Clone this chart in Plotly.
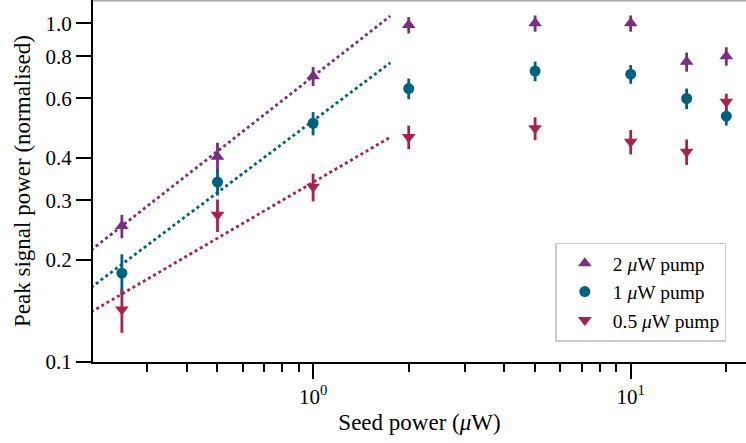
import plotly.graph_objects as go

# ---------------- data ----------------
seed_power = [0.25, 0.5, 1, 2, 5, 10, 15, 20]

pump2_y = [0.252, 0.404, 0.698, 0.989, 1.0, 1.0, 0.770, 0.800]
pump2_err = [0.020, 0.040, 0.045, 0.055, 0.055, 0.055, 0.050, 0.050]

pump1_y = [0.183, 0.340, 0.507, 0.642, 0.723, 0.708, 0.600, 0.532]
pump1_err = [0.025, 0.030, 0.040, 0.045, 0.048, 0.045, 0.042, 0.033]

pump05_y = [0.143, 0.272, 0.329, 0.462, 0.490, 0.447, 0.418, 0.587]
pump05_err = [0.021, 0.030, 0.031, 0.037, 0.038, 0.037, 0.036, 0.033]

# power-law fit lines (end points, straight on log-log axes)
fit_x = [0.2, 1.75]
fit2_y = [0.214, 1.051]
fit1_y = [0.166, 0.765]
fit05_y = [0.1405, 0.461]

labels = ["2 <i>μ</i>W pump", "1 <i>μ</i>W pump", "0.5 <i>μ</i>W pump"]

y_ticks = [0.1, 0.2, 0.3, 0.4, 0.6, 0.8, 1.0]
y_ticktext = ["0.1", "0.2", "0.3", "0.4", "0.6", "0.8", "1.0"]
x_ticks = [1, 10]
x_ticktext = ["10<sup>0</sup>", "10<sup>1</sup>"]
x_minor = [0.2, 0.3, 0.4, 0.5, 0.6, 0.7, 0.8, 0.9, 2, 3, 4, 5, 6, 7, 8, 9, 20]

# ---------------- style ----------------
PURPLE = "#7b2d80"
BLUE = "#00617f"
RED = "#a8224a"
FONT = "Liberation Serif"

fig = go.Figure()

for fy, col in [(fit2_y, PURPLE), (fit1_y, BLUE), (fit05_y, RED)]:
    fig.add_trace(go.Scatter(
        x=fit_x, y=fy, mode="lines", showlegend=False, hoverinfo="skip",
        line=dict(color=col, width=2.8, dash="3px,3px"),
    ))

series = [
    (pump2_y, pump2_err, PURPLE, "triangle-up", labels[0]),
    (pump1_y, pump1_err, BLUE, "circle", labels[1]),
    (pump05_y, pump05_err, RED, "triangle-down", labels[2]),
]
for ys, es, col, sym, name in series:
    fig.add_trace(go.Scatter(
        x=seed_power, y=ys, mode="markers", name=name,
        marker=dict(color=col, symbol=sym, size=12 if sym != "circle" else 11,
                    line=dict(width=0)),
        error_y=dict(type="data", array=es, visible=True, color=col,
                     thickness=2.8, width=0),
    ))

fig.update_layout(
    width=746, height=443,
    margin=dict(l=93, r=0, t=0, b=81),
    paper_bgcolor="white", plot_bgcolor="white",
    font=dict(family=FONT, color="black", size=21),
    legend=dict(
        x=0.708, y=0.33, xanchor="left", yanchor="top",
        bgcolor="white", bordercolor="#cccccc", borderwidth=1.5,
        font=dict(family=FONT, size=19.5),
        tracegroupgap=0, itemwidth=46,
    ),
    shapes=[dict(type="line", xref="paper", yref="paper", x0=0, x1=1, y0=0.998, y1=0.998,
                 line=dict(color="#aaaaaa", width=1.5))],
)

fig.update_xaxes(
    type="log", range=[-0.693, 1.363], automargin=False,
    showgrid=False, zeroline=False,
    showline=True, linecolor="black", linewidth=2,
    ticks="outside", ticklen=15, tickwidth=2, tickcolor="black",
    tickvals=x_ticks, ticktext=x_ticktext,
    tickfont=dict(family=FONT, size=21),
    minor=dict(tickvals=x_minor, ticks="outside", ticklen=8, tickwidth=1.5,
               tickcolor="black", showgrid=False),
    title=dict(text="Seed power (<i>μ</i>W)", font=dict(family=FONT, size=23), standoff=6),
)
fig.update_yaxes(
    type="log", range=[-1, 0.069], automargin=False,
    showgrid=False, zeroline=False,
    showline=True, linecolor="black", linewidth=2,
    ticks="outside", ticklen=15, tickwidth=2, tickcolor="black",
    tickvals=y_ticks, ticktext=y_ticktext,
    tickfont=dict(family=FONT, size=21),
    title=dict(text="Peak signal power (normalised)", font=dict(family=FONT, size=23), standoff=8),
)

fig.write_html(
    "out.html",
    config={"displayModeBar": False},
    post_script="document.body.style.margin='0';document.body.style.overflow='hidden';",
)
